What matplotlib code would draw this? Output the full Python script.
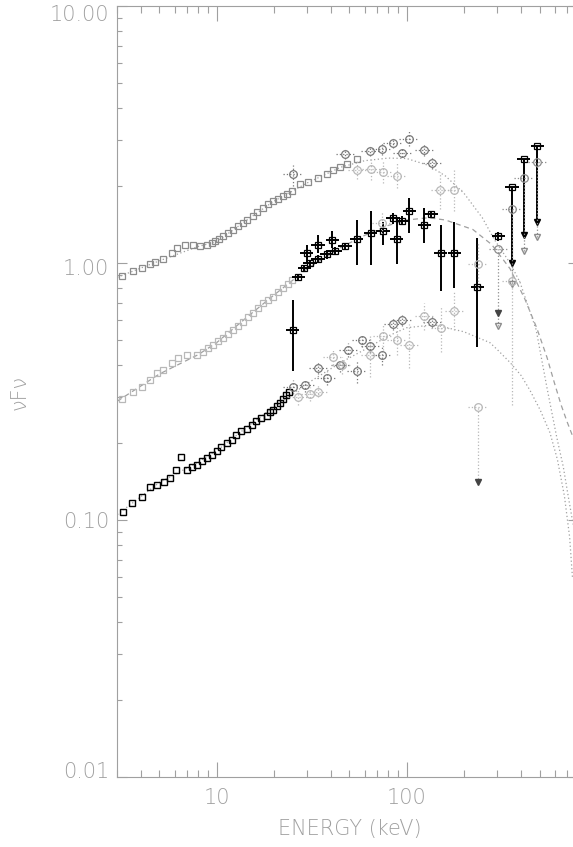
import numpy as np
import matplotlib.pyplot as plt
import matplotlib.transforms as mtransforms
from matplotlib.ticker import LogLocator, NullFormatter

# ---- top spectrum (A) ----
a_pca_e = [3.16, 3.63, 4.03, 4.46, 4.73, 5.21, 5.79, 6.15, 6.81, 7.5, 8.17, 8.86, 9.4, 9.8,
           10.3, 10.8, 11.5, 12.2, 12.9, 13.7, 14.5, 15.5, 16.4, 17.5, 18.6, 19.8, 21.0,
           22.3, 23.5, 24.8, 27.4, 30.2, 34.1, 38.1, 41.0, 44.5, 48.5, 55.0]
a_pca_f = [0.89, 0.93, 0.955, 0.99, 1.01, 1.04, 1.09, 1.14, 1.18, 1.17, 1.16, 1.18, 1.2, 1.22,
           1.245, 1.27, 1.31, 1.35, 1.39, 1.43, 1.47, 1.52, 1.58, 1.64, 1.69, 1.74, 1.78,
           1.82, 1.86, 1.91, 2.03, 2.07, 2.14, 2.22, 2.3, 2.36, 2.42, 2.53]

a_hx_e = [25.2, 47.4, 64.2, 73.8, 84.7, 95.0, 102.8, 123.4, 135.9]
a_hx_f = [2.22, 2.66, 2.72, 2.78, 2.93, 2.68, 3.04, 2.74, 2.45]
a_hx_lo = [2.0, 2.55, 2.6, 2.62, 2.8, 2.58, 2.85, 2.6, 2.33]
a_hx_hi = [2.4, 2.78, 2.85, 2.92, 3.06, 2.8, 3.25, 2.9, 2.58]

a_hx2_e = [54.9, 64.9, 75.0, 88.5, 150.6, 177.4]
a_hx2_f = [2.31, 2.33, 2.27, 2.19, 1.93, 1.93]
a_hx2_lo = [2.12, 2.1, 2.05, 1.95, 1.62, 1.6]
a_hx2_hi = [2.5, 2.55, 2.5, 2.45, 2.25, 2.3]

# ---- middle spectrum (B) ----
b_pca_e = [3.16, 3.64, 4.03, 4.46, 4.83, 5.23, 5.8, 6.28, 6.95, 7.85, 8.5, 9.0, 9.6, 10.2,
           10.8, 11.5, 12.2, 13.0, 13.8, 14.7, 15.6, 16.6, 17.6, 18.7, 19.9, 21.1, 22.4,
           23.6, 24.8]
b_pca_f = [0.296, 0.316, 0.33, 0.35, 0.372, 0.385, 0.409, 0.428, 0.44, 0.44, 0.45, 0.465,
           0.48, 0.495, 0.51, 0.53, 0.55, 0.57, 0.59, 0.615, 0.64, 0.67, 0.70, 0.72, 0.74,
           0.77, 0.80, 0.83, 0.86]

b_hx_e = [25.1, 26.9, 28.9, 29.8, 31.0, 34.2, 34.2, 37.9, 40.6, 42.0, 47.3, 54.5, 64.6, 75.0,
          84.8, 88.5, 95.0, 103.4, 124.0, 135.0, 151.0, 178.0, 235.0, 303.0]
b_hx_f = [0.55, 0.885, 0.955, 1.09, 1.0, 1.035, 1.18, 1.08, 1.23, 1.11, 1.16, 1.24, 1.31, 1.33,
          1.49, 1.24, 1.46, 1.59, 1.40, 1.55, 1.09, 1.09, 0.81, 1.27]
b_hx_lo = [0.38, 0.86, 0.93, 1.0, 0.97, 1.0, 1.09, 1.04, 1.14, 1.07, 1.12, 0.98, 0.98, 1.18,
           1.42, 0.99, 1.4, 1.31, 1.2, 1.5, 0.775, 0.80, 0.47, 1.22]
b_hx_hi = [0.72, 0.91, 0.98, 1.18, 1.03, 1.07, 1.28, 1.12, 1.33, 1.15, 1.2, 1.47, 1.6, 1.45,
           1.56, 1.5, 1.52, 1.79, 1.64, 1.6, 1.41, 1.45, 1.25, 1.32]

# upper-limit style points at the high end (square + bar down to arrow)
ul_e = [358.0, 413.0, 487.0]
ul_f = [1.97, 2.54, 2.84]
ul_arrow = [1.0, 1.29, 1.44]

ulg_e = [303.0, 358.0, 413.0, 487.0]
ulg_f = [1.13, 1.62, 2.14, 2.48]
ulg_arrow = [0.57, 0.83, 1.11, 1.26]

b_hx2_e = [74.1, 236.0]
b_hx2_f = [1.43, 0.99]
b_hx2_lo = [1.3, 0.8]
b_hx2_hi = [1.58, 1.2]

# ---- bottom spectrum (C) ----
c_pca_e = [3.2, 3.6, 4.03, 4.46, 4.87, 5.28, 5.7, 6.1, 6.49, 6.95, 7.39, 7.85, 8.34, 8.86,
           9.41, 10.0, 10.6, 11.3, 12.0, 12.7, 13.5, 14.4, 15.3, 16.2, 17.2, 18.3, 19.0,
           19.8, 20.7, 21.5, 22.4, 23.3, 24.1]
c_pca_f = [0.107, 0.116, 0.123, 0.134, 0.137, 0.141, 0.146, 0.156, 0.176, 0.156, 0.161, 0.164,
           0.169, 0.174, 0.179, 0.186, 0.192, 0.199, 0.205, 0.215, 0.222, 0.226, 0.234, 0.242,
           0.249, 0.254, 0.262, 0.269, 0.277, 0.285, 0.297, 0.306, 0.314]

c_hx_e = [25.1, 29.2, 34.2, 37.9, 44.6, 49.3, 54.5, 58.0, 64.3, 74.0, 84.8, 95.0, 136.0]
c_hx_f = [0.33, 0.335, 0.392, 0.357, 0.40, 0.46, 0.38, 0.50, 0.475, 0.44, 0.58, 0.60, 0.59]
c_hx_lo = [0.31, 0.315, 0.37, 0.335, 0.375, 0.43, 0.34, 0.47, 0.445, 0.40, 0.55, 0.57, 0.56]
c_hx_hi = [0.35, 0.355, 0.415, 0.38, 0.425, 0.49, 0.42, 0.53, 0.505, 0.48, 0.61, 0.63, 0.62]

c_hx2_e = [26.9, 31.0, 34.2, 40.7, 45.4, 64.3, 75.0, 88.5, 103.0, 124.0, 151.0, 178.0, 236.0, 358.0]
c_hx2_f = [0.30, 0.308, 0.316, 0.43, 0.40, 0.44, 0.52, 0.50, 0.48, 0.62, 0.56, 0.65, 0.276, 0.85]
c_hx2_lo = [0.28, 0.29, 0.30, 0.40, 0.37, 0.36, 0.46, 0.44, 0.39, 0.55, 0.45, 0.55, 0.141, 0.28]
c_hx2_hi = [0.32, 0.33, 0.335, 0.46, 0.43, 0.53, 0.58, 0.57, 0.58, 0.70, 0.68, 0.78, 0.276, 1.2]
c_arrow_e = [236.0, 303.0]
c_arrow_f = [0.141, 0.64]

# ---- model curves ----
ma_e = [3, 5, 8, 10, 15, 20, 30, 45, 60, 80, 100, 130, 160, 200, 250, 290, 350, 395, 480,
        546, 616, 667, 709, 748, 800]
ma_f = [0.88, 1.02, 1.16, 1.21, 1.5, 1.74, 2.05, 2.36, 2.5, 2.56, 2.55, 2.4, 2.18, 1.87,
        1.5, 1.23, 1.0, 0.84, 0.55, 0.33, 0.21, 0.161, 0.123, 0.098, 0.08]
mb_e = [3, 5, 8, 10, 15, 20, 30, 45, 60, 80, 100, 130, 160, 223, 280, 350, 420, 483, 547,
        600, 650, 700, 760, 800]
mb_f = [0.29, 0.37, 0.44, 0.49, 0.63, 0.75, 0.95, 1.15, 1.28, 1.4, 1.47, 1.5, 1.47, 1.35,
        1.18, 0.95, 0.72, 0.56, 0.43, 0.34, 0.28, 0.24, 0.205, 0.187]
mc_e = [3, 5, 8, 10, 15, 20, 30, 45, 60, 80, 100, 140, 200, 274, 300, 350, 400, 445, 504,
        567, 621, 676, 720, 745]
mc_f = [0.105, 0.14, 0.168, 0.186, 0.235, 0.275, 0.34, 0.41, 0.46, 0.52, 0.56, 0.575, 0.54,
        0.49, 0.46, 0.41, 0.365, 0.32, 0.268, 0.219, 0.172, 0.124, 0.086, 0.06]

# y tick labels and their small vertical offsets (pixels, + = down) as in the original
ytick_vals = [0.01, 0.1, 1, 10]
ytick_labs = ['0.01', '0.10', '1.00', '10.00']
ytick_dy = [-7, 0, 4, 7]

GRAY = '#a0a0a0'
DARK = '#777777'
MID = '#8c8c8c'
LIGHT = '#b8b8b8'

plt.rcParams['font.family'] = ['DejaVu Sans']

fig = plt.figure(figsize=(5.73, 8.47), dpi=100)
ax = fig.add_axes([117.3 / 573, 70 / 847, 461 / 573, 771 / 847])
ax.set_xscale('log')
ax.set_yscale('log')
ax.set_xlim(3, 800)
ax.set_ylim(0.01, 10)


def hx(e, f, lo, hi, color, marker='o', ls=':', lw=0.9, xf=0.05, ms=5.5):
    e = np.array(e)
    f = np.array(f)
    yerr = [f - np.array(lo), np.array(hi) - f]
    xerr = [e - e / 10 ** xf, e * 10 ** xf - e]
    eb = ax.errorbar(e, f, xerr=xerr, yerr=yerr, fmt=marker, ms=ms, mfc='none', mec=color,
                     mew=0.9, ecolor=color, elinewidth=lw, capsize=0, zorder=3)
    for c in eb[2]:
        c.set_linestyle(ls)


# models
ax.plot(ma_e, ma_f, ls=(0, (1, 2)), color=GRAY, lw=0.9, zorder=1)
ax.plot(mb_e, mb_f, ls=(0, (4, 3)), color=GRAY, lw=0.9, zorder=1)
ax.plot(mc_e, mc_f, ls=(0, (1, 2)), color=GRAY, lw=0.9, zorder=1)

# low energy squares
ax.plot(a_pca_e, a_pca_f, 's', ms=5, mfc='none', mec=MID, mew=0.9, zorder=2)
ax.plot(b_pca_e, b_pca_f, 's', ms=5, mfc='none', mec=LIGHT, mew=0.9, zorder=2)
ax.plot(c_pca_e, c_pca_f, 's', ms=5, mfc='none', mec='black', mew=1.0, zorder=2)

# high energy points
hx(a_hx_e, a_hx_f, a_hx_lo, a_hx_hi, DARK)
hx(a_hx2_e, a_hx2_f, a_hx2_lo, a_hx2_hi, LIGHT)
hx(b_hx_e, b_hx_f, b_hx_lo, b_hx_hi, 'black', marker='s', ls='-', lw=1.4, xf=0.035, ms=5)
hx(b_hx2_e, b_hx2_f, b_hx2_lo, b_hx2_hi, LIGHT)
hx(c_hx_e, c_hx_f, c_hx_lo, c_hx_hi, DARK)
hx(c_hx2_e, c_hx2_f, c_hx2_lo, c_hx2_hi, LIGHT)

# upper limits at the high end
hx(ul_e, ul_f, ul_arrow, ul_f, 'black', marker='s', ls='-', lw=1.4, xf=0.035, ms=5)
ax.plot(ul_e, ul_arrow, 'v', ms=5, color='black', zorder=3)
hx(ulg_e, ulg_f, ulg_arrow, ulg_f, MID)
ax.plot(ulg_e, ulg_arrow, 'v', ms=4, mfc='none', mec=MID, zorder=3)
ax.plot(c_arrow_e, c_arrow_f, 'v', ms=5, color='#444444', zorder=3)

# axes styling
for s in ax.spines.values():
    s.set_color(GRAY)
    s.set_linewidth(0.8)
ax.xaxis.set_minor_locator(LogLocator(base=10, subs=range(2, 10)))
ax.yaxis.set_minor_locator(LogLocator(base=10, subs=range(2, 10)))
ax.xaxis.set_minor_formatter(NullFormatter())
ax.yaxis.set_minor_formatter(NullFormatter())
ax.set_xticks([10, 100], ['10', '100'])
ax.set_yticks(ytick_vals, ytick_labs)
ax.tick_params(which='both', direction='in', top=True, right=True, color=GRAY,
               labelcolor=GRAY, labelsize=15, width=0.8)
ax.tick_params(axis='x', which='major', length=10.8, pad=8)
ax.tick_params(axis='x', which='minor', length=5)
ax.tick_params(axis='y', which='major', length=7.2, pad=6)
ax.tick_params(axis='y', which='minor', length=3.6)
for lab in ax.get_xticklabels() + ax.get_yticklabels():
    lab.set_fontweight('light')
for lab, dy in zip(ax.get_yticklabels(), ytick_dy):
    lab.set_transform(lab.get_transform() +
                      mtransforms.ScaledTranslation(0, -dy / 100, fig.dpi_scale_trans))

fig.text(350 / 573, 1 - 829 / 847, 'ENERGY (keV)', color=GRAY, fontsize=15,
         fontweight='light', ha='center', va='center')
fig.text(20 / 573, 1 - 392 / 847, 'νFν', color=GRAY, fontsize=15, rotation=90,
         fontweight='light', ha='center', va='center')

fig.savefig('out.png', dpi=100)
